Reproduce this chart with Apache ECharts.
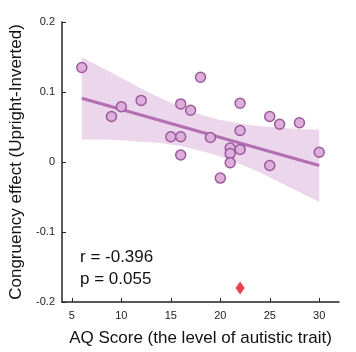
<!DOCTYPE html>
<html>
<head>
<meta charset="utf-8">
<script src="https://cdn.jsdelivr.net/npm/echarts@6/dist/echarts.min.js"></script>
<style>html,body{margin:0;padding:0;background:#fff}#c{width:356px;height:352px}</style>
</head>
<body>
<div id="c"></div>
<script>
// ---- data ----
const aqScores = [6, 9, 10, 12, 15, 16, 16, 16, 17, 18, 19, 20, 21, 21, 21, 22, 22, 22, 25, 25, 26, 28, 30];
const congruency = [0.135, 0.065, 0.079, 0.088, 0.036, 0.036, 0.083, 0.010, 0.074, 0.121, 0.035, -0.023, 0.020, 0.012, -0.001, 0.084, 0.045, 0.018, 0.065, -0.005, 0.054, 0.056, 0.014];
const outlierPoint = [22, -0.180];
const fitX = [6, 30];
const fitY = [0.091, -0.005];
const bandX = [6, 8, 10, 12, 14, 16, 18, 20, 22, 24, 26, 28, 30];
const bandUpper = [0.150, 0.135, 0.120, 0.105, 0.091, 0.078, 0.068, 0.060, 0.055, 0.051, 0.049, 0.047, 0.046];
const bandLower = [0.032, 0.032, 0.031, 0.029, 0.027, 0.023, 0.016, 0.008, -0.003, -0.015, -0.029, -0.043, -0.057];
const xTicks = [5, 10, 15, 20, 25, 30];
const statsText = ['r = -0.396', 'p = 0.055'];
const xName = 'AQ Score (the level of autistic trait)';
const yName = 'Congruency effect (Upright-Inverted)';

const FONT = 'Liberation Sans, Arial, Helvetica, sans-serif';
const chart = echarts.init(document.getElementById('c'), null, {renderer: 'canvas'});

chart.setOption({
  animation: false,
  backgroundColor: '#ffffff',
  grid: {left: 62, right: 17, top: 22, bottom: 50, containLabel: false},
  xAxis: {
    type: 'value', min: 4, max: 32,
    name: xName, nameLocation: 'middle', nameGap: 28,
    nameTextStyle: {fontFamily: FONT, fontSize: 17, color: '#111'},
    axisLine: {show: true, onZero: false, lineStyle: {color: '#222', width: 1.5}},
    axisTick: {show: true, inside: true, length: 4, customValues: xTicks, lineStyle: {color: '#222'}},
    axisLabel: {customValues: xTicks, fontFamily: FONT, fontSize: 11, color: '#222', margin: 8},
    splitLine: {show: false}
  },
  yAxis: {
    type: 'value', min: -0.2, max: 0.2, interval: 0.1,
    name: yName, nameLocation: 'middle', nameGap: 33, nameRotate: 90,
    nameTextStyle: {fontFamily: FONT, fontSize: 17, color: '#111'},
    axisLine: {show: true, onZero: false, lineStyle: {color: '#222', width: 1.5}},
    axisTick: {show: true, inside: true, length: 4, lineStyle: {color: '#222'}},
    axisLabel: {fontFamily: FONT, fontSize: 11, color: '#222', margin: 7,
      formatter: v => { const r = Math.round(v * 10) / 10; return r === 0 ? '0' : String(r); }},
    splitLine: {show: false}
  },
  graphic: [
    {type: 'text', left: 80, top: 249, style: {text: statsText[0], font: '17px ' + FONT, fill: '#111'}},
    {type: 'text', left: 80, top: 271, style: {text: statsText[1], font: '17px ' + FONT, fill: '#111'}}
  ],
  series: [
    {
      type: 'custom', z: 1, silent: true,
      data: [0],
      renderItem: function (params, api) {
        const pts = [];
        bandX.forEach((x, i) => pts.push(api.coord([x, bandUpper[i]])));
        for (let i = bandX.length - 1; i >= 0; i--) pts.push(api.coord([bandX[i], bandLower[i]]));
        return {type: 'polygon', shape: {points: pts}, style: {fill: '#ecd6ec'}};
      }
    },
    {
      type: 'line', z: 2, symbol: 'none', silent: true,
      data: fitX.map((x, i) => [x, fitY[i]]),
      lineStyle: {color: '#b26fb2', width: 3}
    },
    {
      type: 'scatter', z: 3, symbol: 'circle', symbolSize: 10,
      data: aqScores.map((x, i) => [x, congruency[i]]),
      itemStyle: {color: '#deaedd', borderColor: '#9a5a9a', borderWidth: 1.5, opacity: 1}
    },
    {
      type: 'scatter', z: 4, symbol: 'diamond', symbolSize: [9, 13],
      data: [outlierPoint],
      itemStyle: {color: '#e8121c'}
    }
  ]
});
</script>
</body>
</html>
